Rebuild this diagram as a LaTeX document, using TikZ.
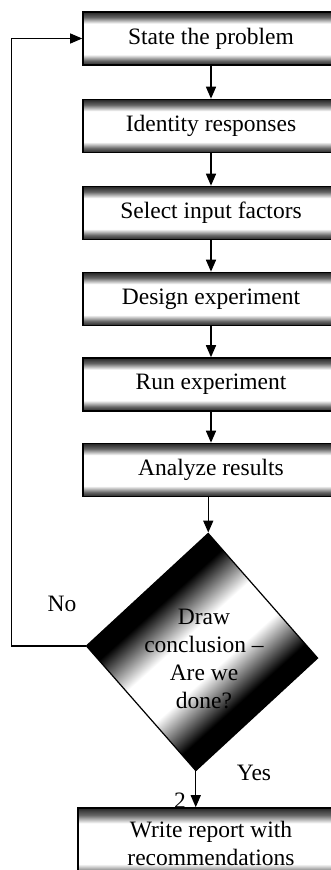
\documentclass[tikz,border=0pt]{standalone}
\usepackage{fontspec}
\setmainfont{Liberation Serif}
\usetikzlibrary{shapes.geometric,arrows.meta}

\pgfdeclareverticalshading{boxband}{100bp}{color(0bp)=(black!85); color(25bp)=(black!85); color(29bp)=(black!60); color(35bp)=(white); color(64bp)=(white); color(70bp)=(black!60); color(75bp)=(black!85); color(100bp)=(black!85)}
\pgfdeclarehorizontalshading{diaband}{100bp}{color(0bp)=(black); color(35bp)=(black); color(40bp)=(black!50); color(45bp)=(white); color(55bp)=(white); color(60bp)=(black!50); color(65bp)=(black); color(100bp)=(black)}

\begin{document}
\begin{tikzpicture}[x=1pt, y=-1pt, >={Triangle[length=12pt,width=10pt]},
    every node/.style={font=\fontsize{23.5}{28}\selectfont},
    stepbox/.style={draw, line width=1.6pt, shading=boxband, inner sep=0pt,
      minimum width=256pt, minimum height=53pt},
    decide/.style={diamond, draw, line width=1.2pt, inner sep=0pt,
      minimum width=232pt, minimum height=238pt,
      path picture={
        \begin{scope}[transform canvas={rotate around={-48:(path picture bounding box.center)}}]
          \shade[shading=diaband] ([shift={(-100,-100)}]path picture bounding box.center)
            rectangle ([shift={(100,100)}]path picture bounding box.center);
        \end{scope}}},
    flow/.style={->, line width=1.5pt}]
  \useasboundingbox (0,0) rectangle (331,870);

  % 1. steps
  \node[stepbox] (b1) at (211,38.5) {State the problem};
  \node[stepbox] (b2) at (211,126) {Identity responses};
  \node[stepbox] (b3) at (211,213) {Select input factors};
  \node[stepbox] (b4) at (211,299) {Design experiment};
  \node[stepbox] (b5) at (211,384.5) {Run experiment};
  \node[stepbox] (b6) at (211,470) {Analyze results};

  % 2. decision
  \node[decide, rotate=-3] (dia) at (202,652) {};
  \node[align=center] (ask) at (204,659) {Draw\\conclusion –\\Are we\\done?};

  % 3. last step
  \node[anchor=base] (pg) at (180,808) {2};
  \node[stepbox, minimum width=266pt, minimum height=70pt, align=center] (report) at (211,843)
    {Write report with\\recommendations};

  % 4. arrows
  \draw[flow] (b1) -- (b2);
  \draw[flow] (b2) -- (b3);
  \draw[flow] (b3) -- (b4);
  \draw[flow] (b4) -- (b5);
  \draw[flow] (b5) -- (b6);
  \draw[flow] (b6.south -| dia.north) -- (dia.north);
  \draw[flow] (dia.south) -- (dia.south |- report.north);
  \draw[flow, line width=1.2pt] (dia.west) -- ++(-74,0) |- (b1.west);

  % 5. answers
  \node (no) at (62,604) {No};
  \node (yes) at (254,773) {Yes};
\end{tikzpicture}
\end{document}
